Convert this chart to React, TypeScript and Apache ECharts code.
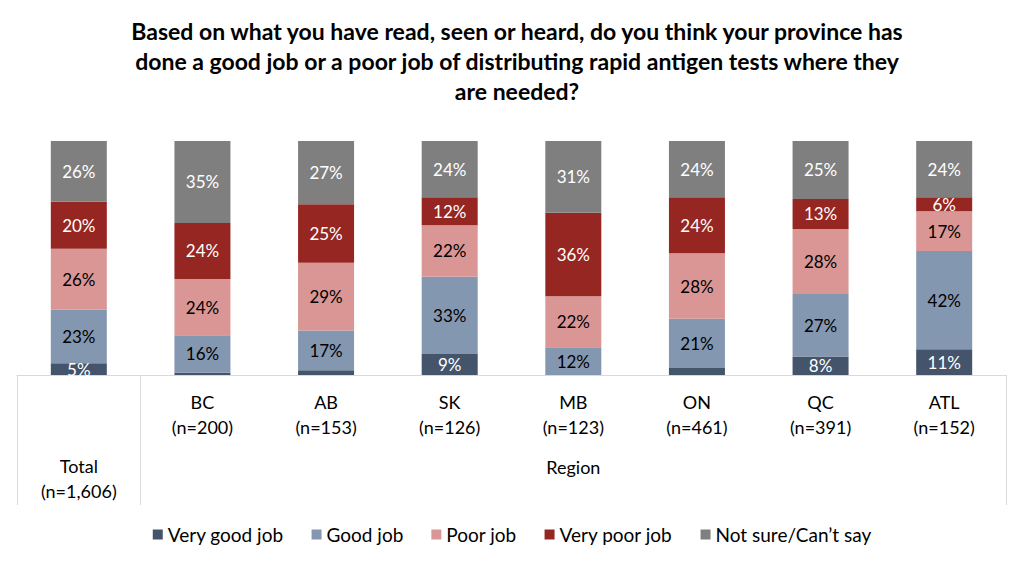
import React, { useEffect, useRef } from "react";
import * as echarts from "echarts";

const categories = ["Total", "BC", "AB", "SK", "MB", "ON", "QC", "ATL"];
const sampleSizes = ["1,606", "200", "153", "126", "123", "461", "391", "152"];
const seriesNames = ["Very good job", "Good job", "Poor job", "Very poor job", "Not sure/Can\u2019t say"];
const veryGood = [5, 1, 2, 9, 0, 3, 8, 11];
const good = [23, 16, 17, 33, 12, 21, 27, 42];
const poor = [26, 24, 29, 22, 22, 28, 28, 17];
const veryPoor = [20, 24, 25, 12, 36, 24, 13, 6];
const notSure = [26, 35, 27, 24, 31, 24, 25, 24];
const colors = ["#44546A", "#8497B0", "#DA9694", "#962621", "#7F7F7F"];
const labelColors = ["#FFFFFF", "#000000", "#000000", "#FFFFFF", "#FFFFFF"];
const titleText =
  "Based on what you have read, seen or heard, do you think your province has\ndone a good job or a poor job of distributing rapid antigen tests where they\nare needed?";

const FONT = "Lato, 'Open Sans', sans-serif";

export default function App() {
  const ref = useRef<HTMLDivElement>(null);
  useEffect(() => {
    if (!ref.current) return;
    const chart = echarts.init(ref.current, null, { renderer: "svg" });
    const raw = [veryGood, good, poor, veryPoor, notSure];
    const sums = categories.map((_, i) => raw.reduce((s, arr) => s + arr[i], 0));
    const series = raw.map((arr, si) => ({
      name: seriesNames[si],
      type: "bar",
      stack: "total",
      barWidth: 56,
      itemStyle: { color: colors[si] },
      data: arr.map((v, i) => (v / sums[i]) * 100),
      label: {
        show: true,
        position: "inside",
        color: labelColors[si],
        fontFamily: FONT,
        fontSize: 17,
        formatter: (p: any) => {
          const v = arr[p.dataIndex];
          return v >= 5 ? v + "%" : "";
        },
      },
    }));
    chart.setOption({
      animation: false,
      textStyle: { fontFamily: FONT },
      title: {
        text: titleText,
        left: 512,
        top: 11,
        textAlign: "center",
        textStyle: {
          fontFamily: FONT,
          fontSize: 23,
          fontWeight: "bold",
          lineHeight: 30,
          color: "#000",
        },
      },
      legend: {
        top: 520,
        left: "center",
        itemWidth: 10,
        itemHeight: 10,
        itemGap: 28,
        icon: "rect",
        textStyle: { fontFamily: FONT, fontSize: 19, color: "#000" },
        data: seriesNames,
      },
      grid: { left: 17, right: 18, top: 141, bottom: 193, containLabel: false },
      xAxis: {
        type: "category",
        data: categories,
        axisLine: { lineStyle: { color: "#D9D9D9", width: 1 } },
        axisTick: {
          show: true,
          length: 130,
          lineStyle: { color: "#D9D9D9" },
          interval: (i: number) => i === 0 || i === 1,
        },
        axisLabel: {
          interval: 0,
          margin: 14,
          fontFamily: FONT,
          fontSize: 18,
          color: "#000",
          lineHeight: 25,
          formatter: (val: string, idx: number) => {
            const n = "(n=" + sampleSizes[idx] + ")";
            if (idx === 0) return "{sp| }\n{a|" + val + "}\n{a|" + n + "}";
            if (val === "MB") return "{a|" + val + "}\n{a|" + n + "}\n{rg|Region}";
            return "{a|" + val + "}\n{a|" + n + "}";
          },
          rich: {
            a: { fontFamily: FONT, fontSize: 18, color: "#000", lineHeight: 25 },
            sp: { fontSize: 4, lineHeight: 64 },
            rg: { fontFamily: FONT, fontSize: 18, color: "#000", lineHeight: 56 },
          },
        },
      },
      yAxis: { type: "value", min: 0, max: 100, show: false, splitLine: { show: false } },
      series,
    });
    return () => chart.dispose();
  }, []);
  return (
    <div
      ref={ref}
      style={{ position: "absolute", left: 0, top: 0, width: 1024, height: 568, background: "#fff" }}
    />
  );
}
